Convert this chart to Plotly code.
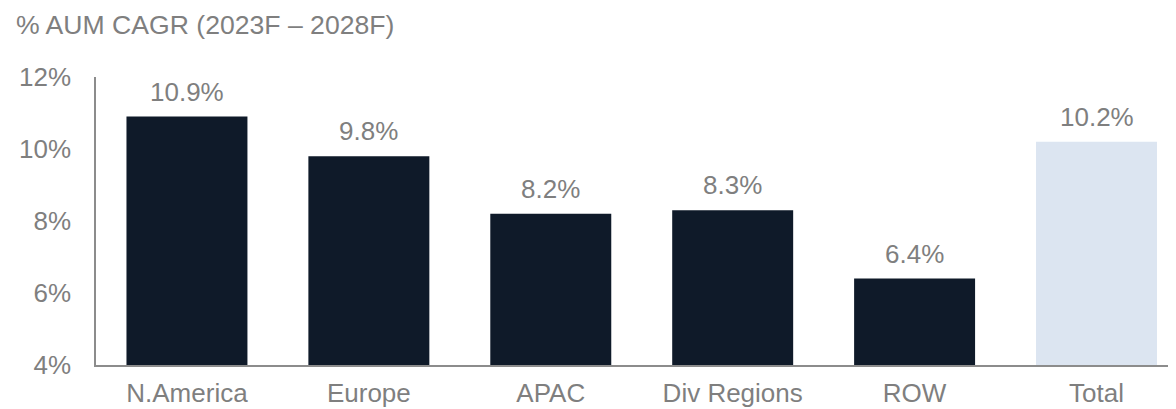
import plotly.graph_objects as go

# data
regions = ["N.America", "Europe", "APAC", "Div Regions", "ROW", "Total"]
cagr = [10.9, 9.8, 8.2, 8.3, 6.4, 10.2]
y_ticks = [4, 6, 8, 10, 12]

_TEXT = "#7F7F7F"
_AXIS = "#8C8C8C"
DARK_BAR = "#0F1A29"
TOTAL_BAR = "#DCE5F1"
FONT = "Arial, Liberation Sans, sans-serif"
FS = 26

bar_colors = [TOTAL_BAR if r == "Total" else DARK_BAR for r in regions]

fig = go.Figure(go.Bar(
    x=regions, y=cagr,
    marker=dict(color=bar_colors, line=dict(width=0)),
    width=0.665,
    hoverinfo="skip",
))

# value labels above bars
for r, v in zip(regions, cagr):
    fig.add_annotation(
        x=r, y=v, text=f"{v:.1f}%",
        showarrow=False, yanchor="bottom", yshift=8,
        font=dict(family=FONT, size=FS, color=_TEXT),
    )

# page body has an 8px margin, so offsets are compensated here
fig.update_layout(
    width=1176, height=409,
    paper_bgcolor="white", plot_bgcolor="white",
    font=dict(family=FONT, size=FS, color=_TEXT),
    margin=dict(l=88, r=0, t=69, b=52, autoexpand=False),
    showlegend=False,
    title=dict(
        text="% AUM CAGR (2023F – 2028F)",
        x=8 / 1176, xanchor="left", y=1 - 17 / 409, yanchor="middle",
        font=dict(family=FONT, size=26.6, color=_TEXT),
    ),
    xaxis=dict(
        range=[-0.5, 5.481], showgrid=False, zeroline=False,
        showline=True, linecolor=_AXIS, linewidth=1.5,
        ticks="", ticklabelstandoff=4, automargin=False,
        tickfont=dict(size=FS, color=_TEXT),
    ),
    yaxis=dict(
        range=[4, 12], tickvals=y_ticks,
        ticktext=[f"{t}%" for t in y_ticks],
        showgrid=False, zeroline=False,
        showline=True, linecolor=_AXIS, linewidth=1.5,
        ticks="", ticklabelstandoff=18, automargin=False,
        tickfont=dict(size=FS, color=_TEXT),
    ),
)

fig.write_html("out.html")
